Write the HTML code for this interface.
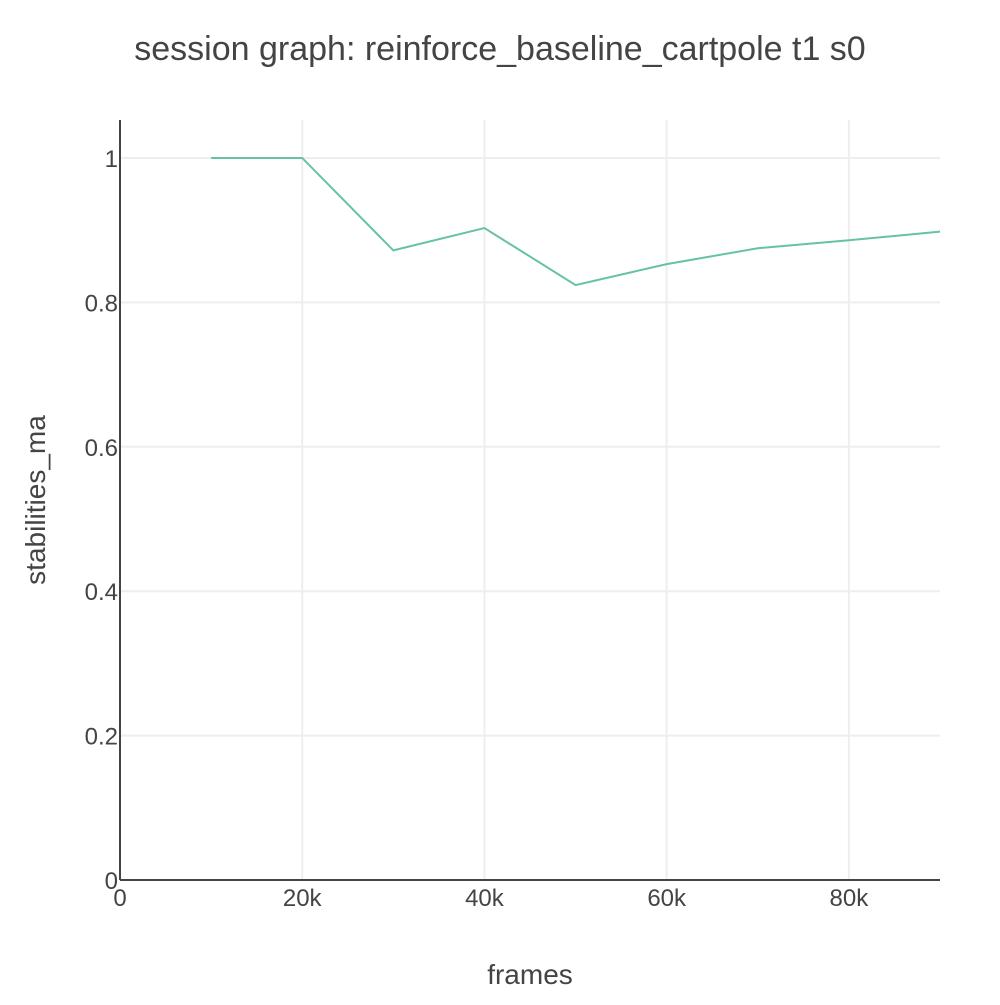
<!DOCTYPE html>
<html><head><meta charset="utf-8"><style>
body{margin:0;background:#fff;}
svg text{font-family:"Liberation Sans",sans-serif;fill:#444;}
</style></head><body>
<svg id="chart" width="1000" height="1000" viewBox="0 0 1000 1000">
<text x="500" y="60" text-anchor="middle" font-size="34">session graph: reinforce_baseline_cartpole t1 s0</text>
<g id="grid"></g>
<g id="ticks"></g>
<line x1="120" y1="120" x2="120" y2="880" stroke="#444" stroke-width="2"/>
<line x1="120" y1="880" x2="940" y2="880" stroke="#444" stroke-width="2"/>
<path id="line" fill="none" stroke="#66c2a5" stroke-width="2"/>
<text x="530" y="984" text-anchor="middle" font-size="28">frames</text>
<text transform="translate(45,500) rotate(-90)" text-anchor="middle" font-size="28">stabilities_ma</text>
</svg>
<script>
const frames=[10000,20000,30000,40000,50000,60000,70000,80000,90000];
const values=[1,1,0.872,0.903,0.824,0.853,0.875,0.886,0.898];
const xTicks=[0,20000,40000,60000,80000];
const xTickLabels=["0","20k","40k","60k","80k"];
const yTicks=[0,0.2,0.4,0.6,0.8,1];
const yTickLabels=["0","0.2","0.4","0.6","0.8","1"];
const X0=120,X1=940,Y0=880,Y1=120,xMax=90000,yMax=1.0526;
const sx=v=>X0+(X1-X0)*v/xMax, sy=v=>Y0-(Y0-Y1)*v/yMax;
const ns="http://www.w3.org/2000/svg";
const grid=document.getElementById('grid'),ticks=document.getElementById('ticks');
xTicks.forEach((t,i)=>{
 if(t>0){const l=document.createElementNS(ns,'line');
 l.setAttribute('x1',sx(t));l.setAttribute('x2',sx(t));l.setAttribute('y1',Y1);l.setAttribute('y2',Y0);
 l.setAttribute('stroke','#eee');l.setAttribute('stroke-width','2');
 
 
 grid.appendChild(l);}
 const tx=document.createElementNS(ns,'text');
 tx.setAttribute('x',sx(t));tx.setAttribute('y',906);tx.setAttribute('text-anchor','middle');tx.setAttribute('font-size','24');
 tx.textContent=xTickLabels[i];
 
 
 ticks.appendChild(tx);
});
yTicks.forEach((t,i)=>{
 if(t>0){const l=document.createElementNS(ns,'line');
 l.setAttribute('x1',X0);l.setAttribute('x2',X1);l.setAttribute('y1',sy(t));l.setAttribute('y2',sy(t));
 l.setAttribute('stroke','#eee');l.setAttribute('stroke-width','2');
 
 
 grid.appendChild(l);}
 const tx=document.createElementNS(ns,'text');
 tx.setAttribute('x',118);tx.setAttribute('y',sy(t)+9);tx.setAttribute('text-anchor','end');tx.setAttribute('font-size','24');
 tx.textContent=yTickLabels[i];
 
 
 ticks.appendChild(tx);
});
document.getElementById('line').setAttribute('d',frames.map((f,i)=>(i?'L':'M')+sx(f)+','+sy(values[i])).join(' '));
</script>
</body></html>
